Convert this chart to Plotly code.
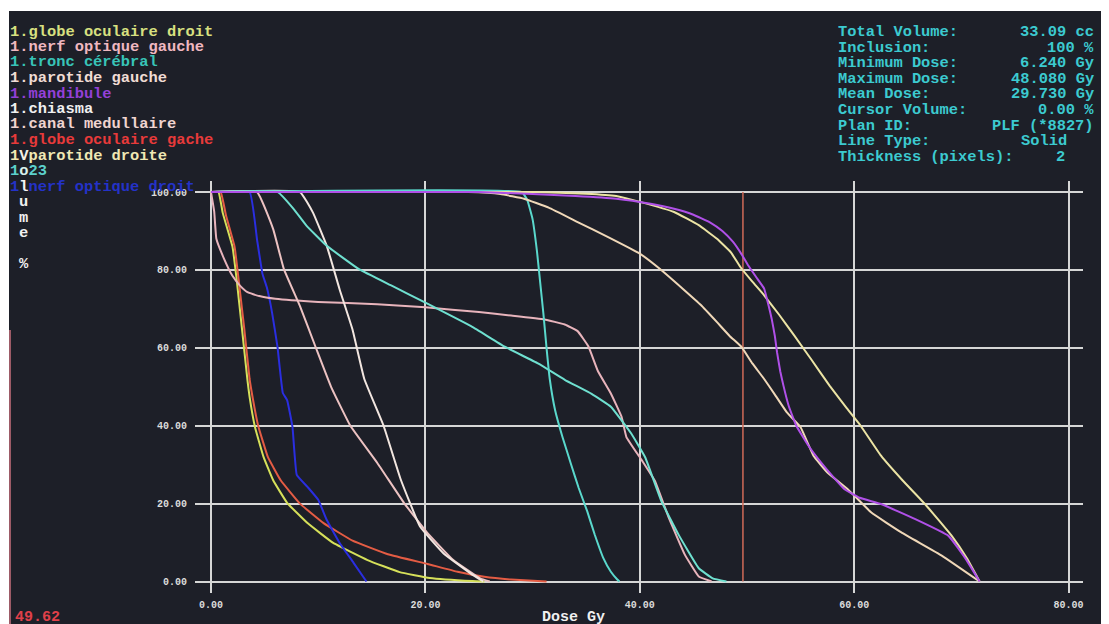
import plotly.graph_objects as go

# ---------------- data ----------------
GLOBE_OD_DOSE = [0.0, 0.7, 1.1, 2.0, 2.4, 2.9, 3.4, 3.6, 4.1, 4.9, 5.8, 7.1, 9.0, 11.4, 14.6, 17.6, 20.4, 24.4, 25.5]
GLOBE_OD_VOL = [100, 100, 94.6, 86, 77.4, 64.6, 51.7, 47.4, 39.7, 32, 26, 20.2, 15, 9.9, 5.5, 2.4, 0.9, 0.1, 0]

NERF_OG_DOSE = [0.0, 0.3, 0.5, 1.2, 2.0, 2.7, 3.4, 4.5, 6.0, 10.0, 15.5, 20.0, 25.0, 28.0, 31.1, 33.0, 34.2, 35.2, 36.1, 37.3, 38.3, 38.75, 40.2, 41.4, 42.7, 44.2, 45.5, 46.7]
NERF_OG_VOL = [100, 95, 88, 83, 78.5, 76, 74.3, 73.3, 72.6, 71.8, 71.2, 70.4, 69.2, 68.3, 67.3, 66.0, 64.3, 60.4, 54, 48.3, 42.3, 37.1, 31.1, 25.9, 16.4, 6.9, 1.3, 0]

TRONC_DOSE = [0.0, 6.24, 7.7, 8.9, 10.8, 13.8, 16.9, 20.0, 24.3, 27.4, 30.5, 33.0, 35.5, 37.3, 39.2, 40.5, 42.0, 43.6, 45.5, 46.8, 48.08]
TRONC_VOL = [100, 100, 95.7, 91.4, 86.2, 80.2, 75.9, 71.6, 65.5, 60.3, 56, 51.8, 48.2, 44.9, 38, 31.9, 20.7, 12.1, 3.4, 0.8, 0]

PAROTIDE_G_DOSE = [0.0, 4.3, 5.8, 6.8, 8.3, 9.8, 11.2, 13.0, 15.5, 18.0, 20.2, 22.6, 25.1, 26.0]
PAROTIDE_G_VOL = [100, 100, 90.5, 80.2, 70.7, 59.9, 50, 40, 30.5, 20.2, 12.4, 5.5, 0.8, 0]

MANDIBULE_DOSE = [0.0, 25.0, 30.0, 34.0, 37.8, 41.0, 43.2, 45.0, 46.5, 47.7, 48.7, 49.5, 50.1, 50.9, 51.6, 52.0, 52.3, 52.6, 52.8, 53.1, 53.4, 53.9, 54.6, 55.7, 56.9, 58.0, 59.1, 60.5, 62.5, 65.7, 68.8, 70.4, 71.7]
MANDIBULE_VOL = [100, 100, 99.5, 99, 98.3, 97, 95.7, 94.2, 92.3, 90, 87.2, 84, 81.2, 78, 75.2, 71, 67.5, 63, 58.9, 54, 50.3, 45, 40, 35, 30.6, 27, 23.7, 21.5, 19.9, 16, 11.7, 5.8, 0]

CHIASMA_DOSE = [0.0, 8.3, 9.5, 10.8, 12.0, 13.2, 14.3, 16.1, 17.7, 19.5, 21.7, 24.2, 25.4]
CHIASMA_VOL = [100, 100, 94.8, 86.2, 75, 64.7, 52, 40, 26.2, 14.1, 7.2, 2.1, 0]

CANAL_DOSE = [0.0, 24.0, 27.0, 29.2, 31.5, 34.2, 37.0, 40.0, 42.0, 44.0, 45.7, 47.2, 48.4, 49.5, 50.5, 51.6, 52.6, 53.7, 55.0, 56.2, 57.5, 59.4, 61.6, 64.4, 68.2, 71.7]
CANAL_VOL = [100, 100, 99.5, 98.3, 96, 92.3, 88.5, 84.2, 80, 75.2, 71, 66.6, 63, 60.2, 56, 52, 48, 43.5, 39.6, 32.3, 28, 23.7, 17.7, 12.6, 6.6, 0]

GLOBE_OG_DOSE = [0.0, 0.9, 1.4, 2.2, 2.6, 3.1, 3.6, 3.9, 4.4, 5.3, 6.5, 8.3, 10.5, 13.2, 16.5, 20.2, 23.0, 25.5, 28.0, 31.3]
GLOBE_OG_VOL = [100, 100, 94, 86, 77, 65, 52, 47, 40, 32, 26, 20, 15, 10.5, 7, 4.5, 2.5, 1.2, 0.5, 0]

PAROTIDE_D_DOSE = [0.0, 30.0, 35.0, 37.8, 40.0, 43.2, 45.5, 47.2, 48.5, 49.4, 50.5, 51.6, 53.0, 54.4, 56.0, 57.7, 59.3, 60.6, 62.5, 64.5, 66.6, 69.1, 70.5, 71.7]
PAROTIDE_D_VOL = [100, 100, 99.6, 99, 97.5, 94.9, 91.5, 88, 84.5, 80.7, 77, 73.5, 68.5, 63.2, 57, 50.3, 44.5, 40, 32.3, 26, 19.9, 11.7, 6, 0]

O23_DOSE = [0.0, 29.0, 29.5, 30.0, 30.4, 30.7, 31.0, 31.3, 31.6, 32.1, 32.8, 33.6, 34.3, 35.1, 35.8, 36.6, 37.3, 37.9, 38.1]
O23_VOL = [100, 100, 98, 93, 85, 77, 69, 60, 52, 44, 37, 30, 24, 18, 12, 6, 2.5, 0.5, 0]

NERF_OD_DOSE = [0.0, 3.6, 4.3, 4.8, 5.2, 5.7, 6.2, 6.7, 7.1, 7.6, 8.0, 9.0, 10.0, 10.8, 12.0, 13.3, 14.5]
NERF_OD_VOL = [100, 100, 87.7, 79, 75.6, 69, 60.3, 48.4, 46.6, 39.7, 27.4, 24.3, 21, 15.8, 9.9, 4.8, 0]

CURSOR_DOSE = 49.62

X_TICKS = [0, 20, 40, 60, 80]
Y_TICKS = [0, 20, 40, 60, 80, 100]

LEGEND_TEXT = [
    "1.globe oculaire droit",
    "1.nerf optique gauche",
    "1.tronc cérébral",
    "1.parotide gauche",
    "1.mandibule",
    "1.chiasma",
    "1.canal medullaire",
    "1.globe oculaire gache",
]
STAT_LABELS = ["Total Volume:", "Inclusion:", "Minimum Dose:", "Maximum Dose:", "Mean Dose:",
               "Cursor Volume:", "Plan ID:", "Line Type:", "Thickness (pixels):"]
STAT_VALUES = ["33.09 cc", "100 %", "6.240 Gy", "48.080 Gy", "29.730 Gy", "0.00 %", "PLF (*8827)", "Solid", "2"]

# ---------------- styles ----------------
BG = "#1d1f28"
GRID = "#d6d6d6"
MONO = "Liberation Mono"

series = [
    (GLOBE_OD_DOSE, GLOBE_OD_VOL, "#d6e05a"),
    (GLOBE_OG_DOSE, GLOBE_OG_VOL, "#e45c44"),
    (NERF_OD_DOSE, NERF_OD_VOL, "#2a2ee0"),
    (NERF_OG_DOSE, NERF_OG_VOL, "#e8b4bc"),
    (PAROTIDE_G_DOSE, PAROTIDE_G_VOL, "#ecc2c2"),
    (CHIASMA_DOSE, CHIASMA_VOL, "#f2e6e0"),
    (TRONC_DOSE, TRONC_VOL, "#6fe0d0"),
    (O23_DOSE, O23_VOL, "#5ad8cc"),
    (CANAL_DOSE, CANAL_VOL, "#f0d8b8"),
    (PAROTIDE_D_DOSE, PAROTIDE_D_VOL, "#ece4a4"),
    (MANDIBULE_DOSE, MANDIBULE_VOL, "#b050e8"),
]
legend_colors = ["#d8e080", "#f0b8c0", "#38c4b8", "#f0dcd4", "#9440d8", "#f0f0f0", "#f0d4d0", "#e83a3a"]

# the page body has an 8px margin: figure pixel = screen pixel - 8
OFF = 8
W, H = 1109, 624
# target screen positions of the plotting frame
SX0, SX1, SY0, SY1 = 195, 1083, 181, 593
ML, MR, MT, MB = SX0 - OFF, W - (SX1 - OFF), SY0 - OFF, H - (SY1 - OFF)
PW, PH = W - ML - MR, H - MT - MB
# screen pixel <-> data scale of the reference
X0PX, XPERGY = 211, 10.72
Y0PX, YPERPCT = 581.5, 3.894


def px(x):
    return (x - OFF - ML) / PW


def py(y):
    return (H - MB - (y - OFF)) / PH


fig = go.Figure()

fig.add_trace(go.Scatter(x=[CURSOR_DOSE, CURSOR_DOSE], y=[0, 100], mode="lines",
                         line=dict(color="#d06a58", width=1.5), hoverinfo="skip"))
for xs, ys, col in series:
    fig.add_trace(go.Scatter(x=xs, y=ys, mode="lines",
                             line=dict(color=col, width=2, shape="spline", smoothing=0.3),
                             hoverinfo="skip"))

ann = []
FS = 15.4
row0, dy = 31.5, 15.5


def txt(x, y, t, color, size=FS, anchor="left"):
    ann.append(dict(x=px(x), y=py(y), xref="paper", yref="paper", text=t, showarrow=False,
                    xanchor=anchor, yanchor="middle", borderpad=0,
                    font=dict(family=MONO, size=size, color=color, weight="bold")))


for i, (t, c) in enumerate(zip(LEGEND_TEXT, legend_colors)):
    txt(9, row0 + dy * i, t, c)
# rows overlapped by the vertical "Volume" label
txt(9, row0 + dy * 8, '1<span style="color:#f4f0e4">V</span>parotide droite', "#f0e8b4")
txt(9, row0 + dy * 9, '1<span style="color:#d8f0ec">o</span>23', "#5cd0cc")
txt(9, row0 + dy * 10, '1<span style="color:#f4f4f4">l</span>nerf optique droit', "#2432c8")
for ch, yy in [("u", 202), ("m", 218), ("e", 233), ("%", 264)]:
    txt(18, yy, ch, "#f0f0f0")

for i, (lab, val) in enumerate(zip(STAT_LABELS, STAT_VALUES)):
    yy = 32 + 15.6 * i
    txt(837, yy, lab, "#3ccad0")
    right = 1095
    if val == "Solid":
        right = 1068
    elif val == "2":
        right = 1066
    txt(right, yy, val, "#3ccad0", anchor="right")

txt(573, 617, "Dose Gy", "#f0f0f0", size=15, anchor="center")
txt(14, 617, "49.62", "#e0404a", size=15)

fig.update_layout(annotations=ann)

shapes = [
    dict(type="rect", xref="paper", yref="paper", x0=px(-20), x1=px(W + 20), y0=py(11), y1=py(-20),
         fillcolor="white", line=dict(width=0), layer="above"),
    dict(type="rect", xref="paper", yref="paper", x0=px(-20), x1=px(9), y0=py(H + 20), y1=py(-20),
         fillcolor="white", line=dict(width=0), layer="above"),
    dict(type="line", xref="paper", yref="paper", x0=px(10), x1=px(10), y0=py(330), y1=py(H + 20),
         line=dict(color="#c8707c", width=1.5), layer="above"),
]
fig.update_layout(shapes=shapes)

fig.update_layout(
    width=W, height=H,
    margin=dict(l=ML, r=MR, t=MT, b=MB, autoexpand=False),
    paper_bgcolor=BG, plot_bgcolor=BG,
    showlegend=False,
    xaxis=dict(range=[(SX0 - X0PX) / XPERGY, (SX1 - X0PX) / XPERGY], tickvals=X_TICKS,
               ticktext=[f"{v:.2f}" for v in X_TICKS], showgrid=True, gridcolor=GRID, gridwidth=2,
               zeroline=False, showline=False, ticks="", ticklabelstandoff=4,
               tickfont=dict(family=MONO, size=10, color="#dcdcdc", weight="bold"), automargin=False),
    yaxis=dict(range=[(Y0PX - SY1) / YPERPCT, (Y0PX - SY0) / YPERPCT], tickvals=Y_TICKS,
               ticktext=[f"{v:.2f}" for v in Y_TICKS], showgrid=True, gridcolor=GRID, gridwidth=2,
               zeroline=False, showline=False, ticks="", ticklabelstandoff=7,
               tickfont=dict(family=MONO, size=10, color="#dcdcdc", weight="bold"), automargin=False),
)

fig.write_html("out.html")
